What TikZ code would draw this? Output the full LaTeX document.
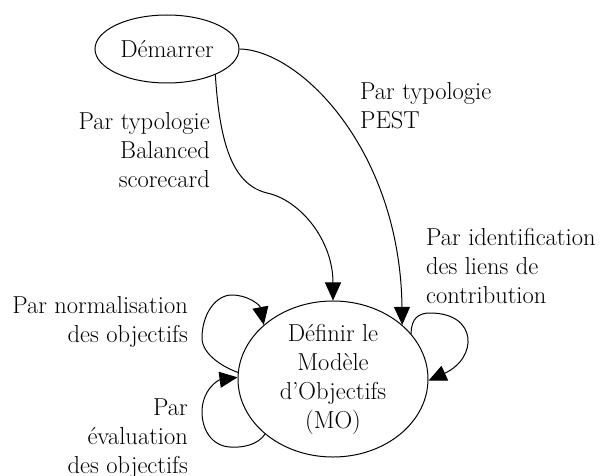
\documentclass[tikz,border=0pt]{standalone}
\usepackage{fontspec}
\usetikzlibrary{arrows.meta,shapes.geometric}
\begin{document}
\begin{tikzpicture}[x=1pt,y=-1pt,
  every node/.style={font=\rmfamily\fontsize{24.5}{29}\selectfont},
  state/.style={draw,ellipse,line width=1pt,inner sep=0pt,align=center},
  edge/.style={draw,line width=1pt,-{Triangle[length=18pt,width=16pt]}},
  lbl/.style={inner sep=0pt}]
\useasboundingbox (0,0) rectangle (600,476);
\node[state,minimum width=144pt,minimum height=68pt] (start) at (167,49) {Démarrer};
\node[state,minimum width=190pt,minimum height=142pt] (mo) at (333,379)
  {Définir le\\Modèle\\d’Objectifs\\(MO)};
% edges
\path[edge] (start.-28) .. controls (220,150) and (235,185) .. (267,193)
  .. controls (300,200) and (333,240) .. (mo.north);
\path[edge] (start.east) .. controls (300,50) and (400,150) .. (mo.38);
% right loop
\path[edge] (mo.30) .. controls (411,318) and (419,313) .. (430,313)
  .. controls (478,313) and (478,358) .. (mo.-1);
% top-left loop
\path[edge] (mo.176) .. controls (225,368) and (202,355) .. (202,338)
  .. controls (202,315) and (215,295) .. (232,295)
  .. controls (248,295) and (260,305) .. (mo.142);
% bottom-left loop
\path[edge] (mo.-141) .. controls (258,445) and (242,448) .. (230,447)
  .. controls (212,446) and (202,430) .. (202,412)
  .. controls (202,390) and (218,380) .. (mo.179);
% labels
\node[lbl,anchor=north east,align=right] (lbal) at (210,112) {Par typologie\\Balanced\\scorecard};
\node[lbl,anchor=north west,align=left] (lpest) at (360,82) {Par typologie\\PEST};
\node[lbl,anchor=north west,align=left] (lid) at (426,228) {Par identification\\des liens de\\contribution};
\node[lbl,anchor=north east,align=right] (lnorm) at (188,296) {Par normalisation\\des objectifs};
\node[lbl,anchor=north east,align=right] (leval) at (188,399) {Par\\évaluation\\des objectifs};
\end{tikzpicture}
\end{document}
